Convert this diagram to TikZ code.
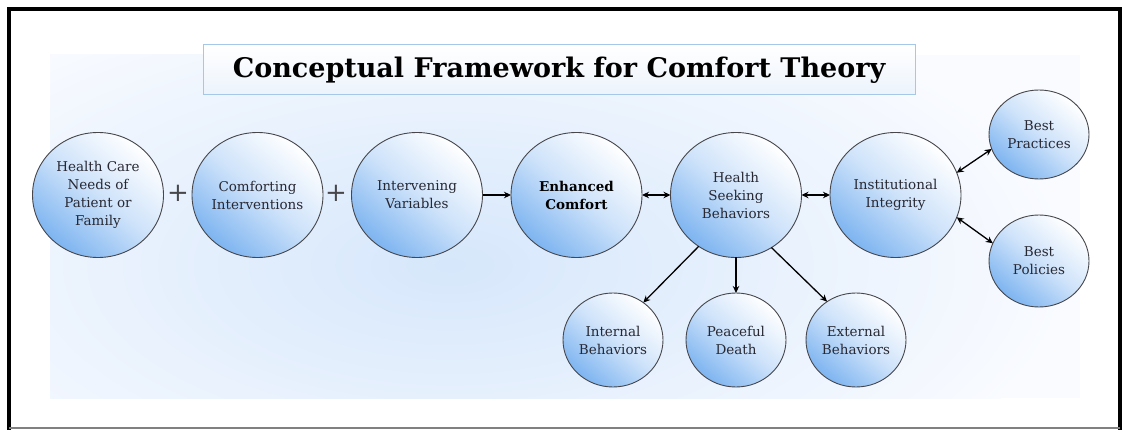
\documentclass[tikz,border=0pt]{standalone}
\usepackage{fontspec}
\setmainfont{DejaVu Serif}
\usetikzlibrary{arrows, arrows.meta}
\usetikzlibrary{shapes.geometric}

\definecolor{circblue}{RGB}{125,180,240}
\definecolor{circmid}{RGB}{205,226,250}
\definecolor{inkgray}{RGB}{40,40,50}
\definecolor{rimgray}{RGB}{70,70,75}
\definecolor{bgblue}{RGB}{249,251,255}
\definecolor{glowblue}{RGB}{214,231,251}
\definecolor{titlerim}{RGB}{165,200,232}
\definecolor{titlefill}{RGB}{236,243,252}

\tikzset{
  bubble/.style={ellipse, draw=rimgray, line width=0.9pt, inner sep=-5pt, outer sep=0pt,
    top color=white, bottom color=circblue, middle color=circmid, shading angle=-40,
    align=center, text=inkgray, font=\fontsize{13.5}{18}\selectfont,
    minimum width=131pt, minimum height=125pt},
  small bubble/.style={bubble, minimum width=100pt, minimum height=94pt},
  link/.style={line width=1.3pt, -{Stealth[length=7pt, width=6.5pt]}},
  twolink/.style={line width=1.3pt, {Stealth[length=7pt, width=6.5pt]}-{Stealth[length=7pt, width=6.5pt]}},
}

\begin{document}
\begin{tikzpicture}[x=1pt, y=-1pt]
      \useasboundingbox (0,0) rectangle (1122,430);
      \fill[white] (0,0) rectangle (1122,430);

      % soft background glow
      \fill[bgblue] (50,55) rectangle (1080,398);
      \begin{scope}
        \clip (50,55) rectangle (1080,398);
        \shade[inner color=glowblue, outer color=bgblue] (450,265) ellipse (620 and 290);
      \end{scope}

      % frame
      \draw[line width=4pt] (9,430) -- (9,9) -- (1120,9) -- (1120,430);
      \draw[gray, line width=2pt] (9,428) -- (1120,428);

      \node[draw=titlerim, line width=1pt, top color=white, bottom color=titlefill,
            minimum width=712pt, minimum height=50pt, text=black,
            font=\bfseries\fontsize{27}{32}\selectfont] (title) at (559,70)
            {Conceptual Framework for Comfort Theory};

      \node[bubble] (needs) at (98,195) {Health Care\\Needs of\\Patient or\\Family};
      \node[bubble] (comfint) at (257.5,195) {Comforting\\Interventions};
      \node[bubble] (intvar) at (417,195) {Intervening\\Variables};
      \node[bubble, text=black, font=\bfseries\fontsize{13.5}{18}\selectfont] (enhcomf) at (576.5,195) {Enhanced\\Comfort};
      \node[bubble] (hsb) at (736,195) {Health\\Seeking\\Behaviors};
      \node[bubble] (instint) at (895.5,195) {Institutional\\Integrity};
      \node[small bubble, minimum height=89pt] (bestprac) at (1039,134.5) {Best\\Practices};
      \node[small bubble, minimum height=92pt] (bestpol) at (1039,261) {Best\\Policies};
      \node[small bubble] (intbeh) at (613,340) {Internal\\Behaviors};
      \node[small bubble] (peace) at (736,340) {Peaceful\\Death};
      \node[small bubble] (extbeh) at (856,340) {External\\Behaviors};

      \node[text=rimgray, font=\fontsize{26}{26}\selectfont] (plusA) at (178,193) {+};
      \node[text=rimgray, font=\fontsize{26}{26}\selectfont] (plusB) at (336,193) {+};

      \draw[link] (intvar) -- (enhcomf);
      \draw[twolink] (enhcomf) -- (hsb);
      \draw[twolink] (hsb) -- (instint);
      \draw[twolink] (instint.20) -- (bestprac.197);
      \draw[twolink] (instint.340) -- (bestpol.159);
      \draw[link] (hsb.234) -- (intbeh.51);
      \draw[link] (hsb.south) -- (peace.north);
      \draw[link] (hsb.304) -- (extbeh.127);
\end{tikzpicture}
\end{document}
